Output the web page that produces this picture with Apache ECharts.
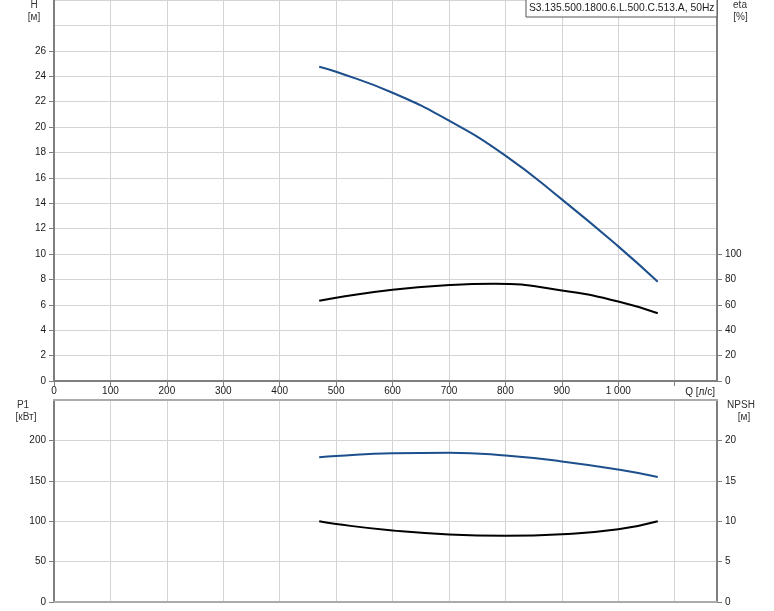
<!DOCTYPE html>
<html>
<head>
<meta charset="utf-8">
<script src="https://cdn.jsdelivr.net/npm/echarts@6/dist/echarts.min.js"></script>
<style>
html,body{margin:0;padding:0;background:#fff;}
#chart{width:774px;height:611px;}
</style>
</head>
<body>
<div id="chart"></div>
<script>
// ---- data ----
const hQ    = [470, 500, 600, 700, 800, 900, 1000, 1070];
const hVal  = [24.75, 24.35, 22.7, 20.5, 17.75, 14.3, 10.6, 7.82];
const etaQ  = [470, 500, 600, 700, 780, 900, 1000, 1070];
const etaVal= [63.2, 65.6, 71.8, 75.5, 76.6, 71.3, 62.6, 53.3];
const p1Q   = [470, 500, 600, 700, 800, 900, 1000, 1070];
const p1Val = [179, 180.8, 184.2, 184.8, 181.3, 174, 164, 154.8];
const npshQ = [470, 500, 600, 700, 800, 900, 1000, 1070];
const npshVal=[10.0, 9.65, 8.85, 8.35, 8.2, 8.4, 9.0, 10.0];

const xTicks = [0,100,200,300,400,500,600,700,800,900,1000,1100];
const xLabels = [0,100,200,300,400,500,600,700,800,900,1000];
const hLabels = [0,2,4,6,8,10,12,14,16,18,20,22,24,26];
const etaLabels = [0,20,40,60,80,100];
const p1Labels = [0,50,100,150,200];
const npshLabels = [0,5,10,15,20];

const titleText = 'S3.135.500.1800.6.L.500.C.513.A, 50Hz';

const FONT = '"Liberation Sans", Arial, sans-serif';
const TXT = '#1a1a1a';
const GRID = '#d4d4d4';
const AX = '#7f7f7f';
const BLUE = '#1c4f8c';

function fmtQ(v){ return v >= 1000 ? String(v).replace(/(\d)(\d{3})$/, '$1 $2') : String(v); }
function pair(q, v){ return q.map((x,i)=>[x, v[i]]); }

const lab = {fontFamily: FONT, fontSize: 10, color: TXT};
const F10 = '10px "Liberation Sans", Arial, sans-serif';

const chart = echarts.init(document.getElementById('chart'), null, {renderer:'canvas'});
chart.setOption({
  animation: false,
  grid: [
    {left: 54, right: 57, top: 0, height: 381},
    {left: 54, right: 57, top: 400, height: 202}
  ],
  xAxis: [
    {gridIndex:0, type:'value', min:0, max:1175, interval:100, position:'bottom',
     axisLine:{show:true, onZero:false, lineStyle:{color:AX, width:2}},
     axisTick:{show:true, length:5, lineStyle:{color:AX}, customValues: xTicks},
     axisLabel:Object.assign({margin:5, customValues: xLabels, formatter: fmtQ}, lab),
     splitLine:{show:true, lineStyle:{color:GRID, width:1}}},
    {gridIndex:1, type:'value', min:0, max:1175, interval:100, position:'bottom',
     axisLine:{show:true, onZero:false, lineStyle:{color:'#ababab', width:2}},
     axisTick:{show:false, customValues: xTicks},
     axisLabel:{show:false},
     splitLine:{show:true, lineStyle:{color:GRID, width:1}}},
    {gridIndex:1, type:'value', min:0, max:1175, interval:100, position:'top',
     axisLine:{show:true, onZero:false, lineStyle:{color:'#ababab', width:2}},
     axisTick:{show:false}, axisLabel:{show:false}, splitLine:{show:false}}
  ],
  yAxis: [
    {gridIndex:0, type:'value', min:0, max:30, interval:2, position:'left',
     axisLine:{show:true, onZero:false, lineStyle:{color:AX, width:2}},
     axisTick:{show:true, length:5, lineStyle:{color:AX}, customValues: hLabels},
     axisLabel:Object.assign({margin:8, customValues: hLabels}, lab),
     splitLine:{show:false}},
    {gridIndex:0, type:'value', min:0, max:300, interval:20, position:'right',
     axisLine:{show:true, onZero:false, lineStyle:{color:AX, width:2}},
     axisTick:{show:true, length:5, lineStyle:{color:AX}, customValues: etaLabels},
     axisLabel:Object.assign({margin:8, customValues: etaLabels}, lab),
     splitLine:{show:false}},
    {gridIndex:0, type:'value', min:0, max:30, interval:2, position:'left',
     axisLine:{show:false}, axisTick:{show:false}, axisLabel:{show:false},
     splitLine:{show:true, lineStyle:{color:GRID, width:1}}},
    {gridIndex:1, type:'value', min:0, max:250, interval:50, position:'left',
     axisLine:{show:true, onZero:false, lineStyle:{color:AX, width:2}},
     axisTick:{show:true, length:5, lineStyle:{color:AX}, customValues: p1Labels},
     axisLabel:Object.assign({margin:8, customValues: p1Labels}, lab),
     splitLine:{show:true, lineStyle:{color:GRID, width:1}}},
    {gridIndex:1, type:'value', min:0, max:25, interval:5, position:'right',
     axisLine:{show:true, onZero:false, lineStyle:{color:AX, width:2}},
     axisTick:{show:true, length:5, lineStyle:{color:AX}, customValues: npshLabels},
     axisLabel:Object.assign({margin:8, customValues: npshLabels}, lab),
     splitLine:{show:false}}
  ],
  series: [
    {type:'line', name:'H', xAxisIndex:0, yAxisIndex:0, data: pair(hQ, hVal), smooth:0.5,
     showSymbol:false, lineStyle:{color:BLUE, width:2}, z:5},
    {type:'line', name:'eta', xAxisIndex:0, yAxisIndex:1, data: pair(etaQ, etaVal), smooth:0.5,
     showSymbol:false, lineStyle:{color:'#000', width:2}, z:5},
    {type:'line', name:'P1', xAxisIndex:1, yAxisIndex:3, data: pair(p1Q, p1Val), smooth:0.5,
     showSymbol:false, lineStyle:{color:BLUE, width:2}, z:5},
    {type:'line', name:'NPSH', xAxisIndex:1, yAxisIndex:4, data: pair(npshQ, npshVal), smooth:0.5,
     showSymbol:false, lineStyle:{color:'#000', width:2}, z:5}
  ],
  graphic: [
    {type:'rect', zlevel:1, z:100, shape:{x:526, y:-1, width:191, height:18}, style:{fill:'#fff', stroke:'#555', lineWidth:1}},
    {type:'text', zlevel:1, z:101, x:529, y:8.5, style:{text:titleText, font:'10.3px "Liberation Sans", Arial, sans-serif', fill:TXT, verticalAlign:'middle'}},
    {type:'text', x:34, y:5, style:{text:'H', font:F10, fill:'#333', align:'center', verticalAlign:'middle'}},
    {type:'text', x:34, y:17, style:{text:'[м]', font:F10, fill:'#333', align:'center', verticalAlign:'middle'}},
    {type:'text', x:740, y:5, style:{text:'eta', font:F10, fill:'#333', align:'center', verticalAlign:'middle'}},
    {type:'text', x:740.5, y:17, style:{text:'[%]', font:F10, fill:'#333', align:'center', verticalAlign:'middle'}},
    {type:'text', x:715, y:392, style:{text:'Q [л/с]', font:F10, fill:TXT, align:'right', verticalAlign:'middle'}},
    {type:'text', x:23, y:405, style:{text:'P1', font:F10, fill:'#333', align:'center', verticalAlign:'middle'}},
    {type:'text', x:26, y:417, style:{text:'[кВт]', font:F10, fill:'#333', align:'center', verticalAlign:'middle'}},
    {type:'text', x:741, y:405, style:{text:'NPSH', font:F10, fill:'#333', align:'center', verticalAlign:'middle'}},
    {type:'text', x:744, y:417, style:{text:'[м]', font:F10, fill:'#333', align:'center', verticalAlign:'middle'}}
  ]
});
</script>
</body>
</html>
